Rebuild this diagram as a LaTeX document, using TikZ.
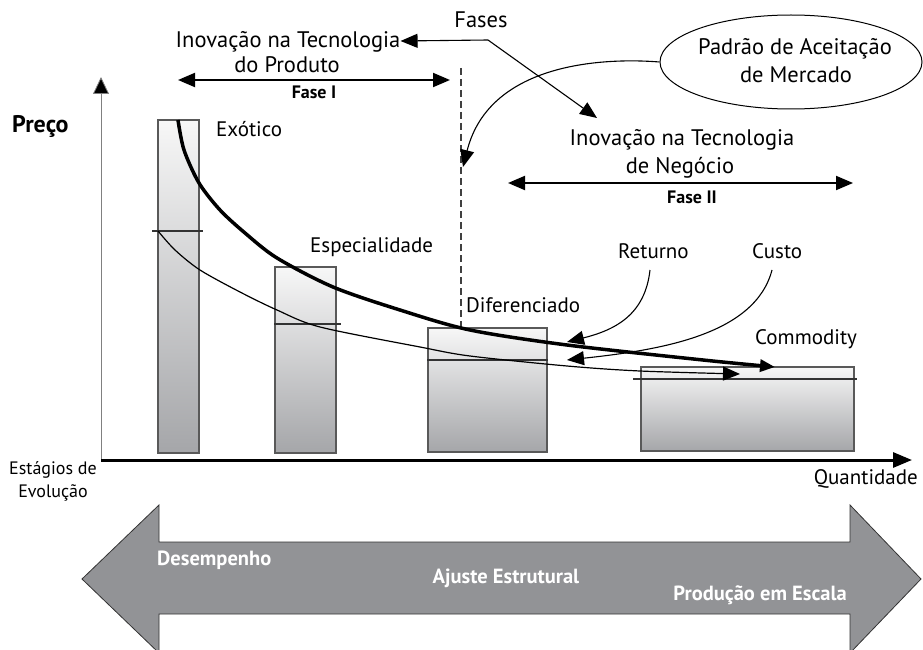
\documentclass[tikz,border=0pt]{standalone}
\usepackage{fontspec}
\setmainfont{PT Sans}
\usetikzlibrary{arrows.meta,shapes.geometric}
\definecolor{bargray}{HTML}{A5A6A9}
\definecolor{bartop}{HTML}{F7F7F7}
\definecolor{bigarrow}{HTML}{929396}
\tikzset{
  lbl/.style={font=\fontsize{21}{23}\selectfont, inner sep=0pt},
  ttl/.style={font=\fontsize{22.5}{25}\selectfont, inner sep=0pt},
  slbl/.style={font=\fontsize{18}{20}\selectfont, inner sep=0pt},
  blbl/.style={font=\bfseries\fontsize{18}{20}\selectfont, inner sep=0pt},
  wlbl/.style={font=\bfseries\fontsize{20.5}{22}\selectfont, text=white, inner sep=0pt},
  barbox/.style={draw=black!65, line width=1.2pt, top color=bartop, bottom color=bargray},
  levelline/.style={draw=black!80, line width=1.4pt},
  tipA/.style={-{Triangle[length=17pt,width=14pt]}},
  dtipA/.style={{Triangle[length=17pt,width=14pt]}-{Triangle[length=17pt,width=14pt]}},
}
\begin{document}
\begin{tikzpicture}[x=1pt,y=-1pt]
\useasboundingbox (0,0) rectangle (923,650);

% big bottom double arrow
\begin{scope}
\clip (0,0) rectangle (923,650);
\draw[fill=bigarrow, draw=black!80, line width=0.8pt]
  (82,579) -- (159,505) -- (159,542) -- (850,542) -- (850,505) -- (921,579)
  -- (850,653) -- (850,614) -- (159,614) -- (159,653) -- cycle;
\end{scope}
\node[wlbl, anchor=base west] (desemp) at (157,565) {Desempenho};
\node[wlbl, anchor=base] (ajuste) at (506,583) {Ajuste Estrutural};
\node[wlbl, anchor=base east] (prod) at (847,600) {Produção em Escala};

% bars
\draw[barbox] (158,120) rectangle (199,453);
\draw[barbox] (275,267) rectangle (336,453);
\draw[barbox] (428,328) rectangle (547,452);
\draw[barbox] (641,367) rectangle (854,451);
\draw[levelline] (152,231) -- (203,231);
\draw[levelline] (274,324) -- (341,324);
\draw[levelline] (427,360) -- (548,360);
\draw[levelline] (633,379) -- (857,379);

% axes
\coordinate (origin) at (101,460);
\coordinate (ytop) at (101,77);
\coordinate (xend) at (912,460);
\draw[draw=black!50, line width=0.8pt, -{Triangle[length=17pt,width=16pt,fill=black]}] (origin) -- (ytop);
\draw[line width=3pt, -{Triangle[length=19pt,width=15pt]}] (origin) -- (xend);

% dashed phase separator
\coordinate (dtop) at (461,68);
\coordinate (dbot) at (461,328);
\draw[black!75, line width=1.2pt, dash pattern=on 7pt off 4pt] (dtop) -- (dbot);

% curves
\draw[line width=3.5pt, -{Triangle[length=15pt,width=12pt]}] plot[smooth, tension=0.5] coordinates
  {(178,120) (184,150) (199,183) (220,210) (245,233) (277,258) (333,287) (400,310) (470,330) (567,345) (703,360) (775,367)};
\draw[line width=1.2pt, -{Triangle[length=17pt,width=14pt]}] plot[smooth, tension=0.5] coordinates
  {(158,231) (175,250) (200,270) (240,292) (277,310) (320,327) (420,347) (470,356) (567,366) (640,371) (740,374)};

% labels of stages
\node[lbl, anchor=base west] (exot) at (216,136) {Exótico};
\node[lbl, anchor=base west] (espec) at (310,252) {Especialidade};
\node[lbl, anchor=base west] (difer) at (466,312) {Diferenciado};
\node[lbl, anchor=base west] (commod) at (755,344) {Commodity};
\node[lbl, anchor=base west] (ret) at (618,258) {Returno};
\node[lbl, anchor=base west] (cust) at (752,258) {Custo};

% Returno / Custo pointers
\coordinate (retstart) at (650,270);
\coordinate (rettip) at (567,342);
\coordinate (custstart) at (772,270);
\coordinate (custtip) at (567,360);
\draw[line width=1.1pt, tipA] (retstart) .. controls (645,315) and (615,330) .. (rettip);
\draw[line width=1.1pt, tipA] (custstart) .. controls (755,335) and (660,350) .. (custtip);

% axis labels
\node[font=\bfseries\fontsize{24}{26}\selectfont, inner sep=0pt, anchor=base west] (preco) at (12,132) {Preço};
\node[slbl, anchor=base] (estag1) at (53,474) {Estágios de};
\node[slbl, anchor=base] (estag2) at (53,497) {Evolução};
\node[lbl, anchor=base east] (quant) at (918,484) {Quantidade};

% Phase I
\node[ttl, anchor=base] (inovP) at (288,48) {Inovação na Tecnologia};
\node[ttl, anchor=base] (doprod) at (287,73) {do Produto};
\coordinate (f1l) at (178,80);
\coordinate (f1r) at (450,80);
\draw[line width=2pt, dtipA] (f1l) -- (f1r);
\node[blbl, anchor=base] (fase1) at (314,99) {Fase I};

% Phase II
\node[ttl, anchor=base] (inovN) at (682,146) {Inovação na Tecnologia};
\node[ttl, anchor=base] (deneg) at (680,173) {de Negócio};
\coordinate (f2l) at (508,183);
\coordinate (f2r) at (853,183);
\draw[line width=2pt, dtipA] (f2l) -- (f2r);
\node[blbl, anchor=base] (fase2) at (692,203) {Fase II};

% Fases pointer
\node[ttl, anchor=base] (fases) at (481,28) {Fases};
\coordinate (fcorner) at (488,40);
\coordinate (fnegtip) at (597,118);
\draw[line width=1.1pt, tipA] (fcorner) -- (inovP.east |- 0,41) ;
\draw[line width=1.1pt, tipA] (fcorner) -- (fnegtip);

% market acceptance ellipse
\node[ellipse, draw, line width=1pt, minimum width=262pt, minimum height=94pt, inner sep=0pt] (padrao) at (791,62) {};
\node[ttl, anchor=base] (padt1) at (795,55) {Padrão de Aceitação};
\node[ttl, anchor=base] (padt2) at (796,83) {de Mercado};
\coordinate (padtip) at (463,167);
\draw[line width=1.1pt, tipA] (padrao.west) .. controls (610,58) and (490,60) .. (padtip);
\end{tikzpicture}
\end{document}
